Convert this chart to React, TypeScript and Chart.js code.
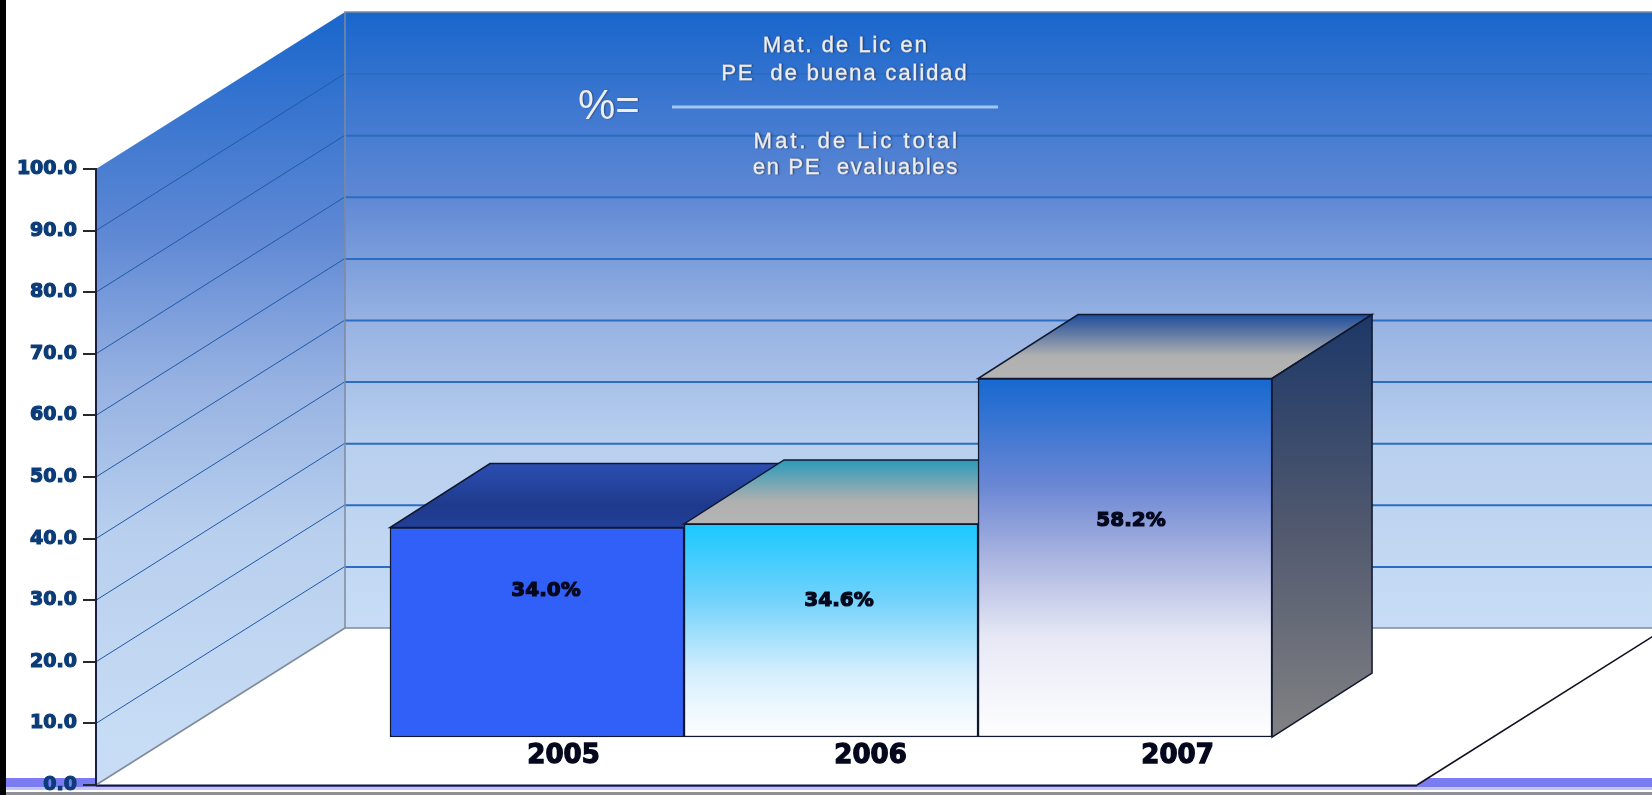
import React, { useEffect, useRef } from "react";
import { Chart, registerables } from "chart.js";

Chart.register(...registerables);

const YEARS = ["2005", "2006", "2007"];
const VALUES = [34.0, 34.6, 58.2];
const VALUE_LABELS = ["34.0%", "34.6%", "58.2%"];
const FORMULA_TOP = ["Mat. de Lic en", "PE  de buena calidad"];
const FORMULA_BOTTOM = ["Mat. de Lic total", "en PE  evaluables"];
const FORMULA_SIGN = "%=";

const DEPTH_DX = 249;
const DEPTH_DY = 157;
const BAR_DX = 100;
const BAR_DY = 64;
const LABEL_DROP = [63, 77, 142];
const LABEL_SHIFT = [9, 8, 6];

const FRONT_STOPS: [number, string][][] = [
  [[0, "#3060f8"], [1, "#3060f8"]],
  [[0, "#1ac8ff"], [0.35, "#70d2fb"], [0.7, "#d5eefd"], [1, "#ffffff"]],
  [[0, "#1668d0"], [0.3, "#6b87d4"], [0.5, "#aab4e0"], [0.72, "#e6e8f5"], [1, "#ffffff"]],
];
const TOP_STOPS: [number, string][][] = [
  [[0, "#2a4eb2"], [0.65, "#1f3a8c"], [1, "#22409a"]],
  [[0, "#2a9ab8"], [0.65, "#b0b0b0"], [1, "#b4b4b4"]],
  [[0, "#1d4c9a"], [0.65, "#b0b0b0"], [1, "#b4b4b4"]],
];

function linear(ctx: CanvasRenderingContext2D, y0: number, y1: number, stops: [number, string][]) {
  const g = ctx.createLinearGradient(0, y0, 0, y1);
  stops.forEach(([o, c]) => g.addColorStop(o, c));
  return g;
}

function poly(ctx: CanvasRenderingContext2D, pts: number[][]) {
  ctx.beginPath();
  pts.forEach(([x, y], i) => (i ? ctx.lineTo(x, y) : ctx.moveTo(x, y)));
  ctx.closePath();
}

const scene = {
  id: "scene",
  beforeDraw(chart: any) {
    const { ctx, chartArea: a, scales } = chart;
    const y = scales.y;
    const W = chart.width;
    const H = chart.height;
    const bottom = y.getPixelForValue(0);
    const top = y.getPixelForValue(100);
    const backB = bottom - DEPTH_DY;
    const backT = top - DEPTH_DY;
    const backL = a.left + DEPTH_DX;
    const backR = a.right + DEPTH_DX;
    ctx.save();

    // frame and band
    ctx.fillStyle = "#7b7bf2";
    ctx.fillRect(0, bottom - 7, W, 11);
    ctx.fillStyle = "#c4c4f2";
    ctx.fillRect(0, bottom + 2, W, 3);
    ctx.fillStyle = "#8f9096";
    ctx.fillRect(0, H - 3, W, 3);
    ctx.fillStyle = "#000000";
    ctx.fillRect(0, 0, 6, H);

    // floor
    poly(ctx, [[a.left, bottom], [a.right, bottom], [backR, backB], [backL, backB]]);
    ctx.fillStyle = "#ffffff";
    ctx.fill();
    ctx.beginPath();
    ctx.moveTo(a.right, bottom);
    ctx.lineTo(backR, backB);
    ctx.strokeStyle = "#101020";
    ctx.lineWidth = 1.5;
    ctx.stroke();
    ctx.beginPath();
    ctx.moveTo(a.left, bottom + 0.5);
    ctx.lineTo(a.right, bottom + 0.5);
    ctx.strokeStyle = "#14143c";
    ctx.lineWidth = 2;
    ctx.stroke();

    const wallStops: [number, string][] = [
      [0, "#1966cc"],
      [0.3, "#5f88d4"],
      [0.5, "#97b2e2"],
      [0.7, "#b8cfee"],
      [1, "#c8ddf5"],
    ];
    // back wall
    ctx.fillStyle = linear(ctx, backT, backB, wallStops);
    ctx.fillRect(backL, backT, backR - backL, backB - backT);
    // side wall
    poly(ctx, [[a.left, top], [backL, backT], [backL, backB], [a.left, bottom]]);
    ctx.fillStyle = linear(ctx, backT, bottom - 30, wallStops);
    ctx.fill();

    // grid on walls, taken from the value axis
    y.ticks.forEach((t: any) => {
      if (t.value === 0 || t.value === 100) return;
      const py = y.getPixelForValue(t.value);
      ctx.beginPath();
      ctx.moveTo(backL, py - DEPTH_DY + 0.5);
      ctx.lineTo(backR, py - DEPTH_DY + 0.5);
      ctx.strokeStyle = "#2b6dc2";
      ctx.lineWidth = 2;
      ctx.stroke();
      ctx.beginPath();
      ctx.moveTo(a.left, py);
      ctx.lineTo(backL, py - DEPTH_DY);
      ctx.strokeStyle = "#1f5aa8";
      ctx.lineWidth = 1;
      ctx.stroke();
    });

    // wall edges
    ctx.strokeStyle = "#7f8a9c";
    ctx.lineWidth = 1.5;
    ctx.beginPath();
    ctx.moveTo(backR, backT);
    ctx.lineTo(backL, backT);
    ctx.lineTo(backL, backB);
    ctx.lineTo(backR, backB);
    ctx.moveTo(backL, backB);
    ctx.lineTo(a.left, bottom);
    ctx.stroke();
    ctx.restore();
  },
  beforeDatasetsDraw(chart: any) {
    const { ctx } = chart;
    // depth of the bars
    const bars = chart.getDatasetMeta(0).data;
    ctx.save();
    ctx.strokeStyle = "#101830";
    ctx.lineWidth = 1.5;
    bars.forEach((b: any, i: number) => {
      const l = b.x - b.width / 2;
      const r = b.x + b.width / 2;
      poly(ctx, [[l, b.y], [r, b.y], [r + BAR_DX, b.y - BAR_DY], [l + BAR_DX, b.y - BAR_DY]]);
      ctx.fillStyle = linear(ctx, b.y - BAR_DY, b.y, TOP_STOPS[i]);
      ctx.fill();
      ctx.stroke();
      if (i === bars.length - 1) {
        poly(ctx, [[r, b.y], [r + BAR_DX, b.y - BAR_DY], [r + BAR_DX, b.base - BAR_DY], [r, b.base]]);
        ctx.fillStyle = linear(ctx, b.y - BAR_DY, b.base, [[0, "#1c3868"], [0.5, "#50586e"], [1, "#828284"]]);
        ctx.fill();
        ctx.stroke();
      }
    });
    ctx.restore();
  },
  afterDatasetsDraw(chart: any) {
    const { ctx } = chart;
    const bars = chart.getDatasetMeta(0).data;
    ctx.save();
    ctx.textAlign = "center";
    ctx.textBaseline = "middle";
    ctx.fillStyle = "#05081c";
    ctx.strokeStyle = "#05081c";
    ctx.lineWidth = 1.2;
    ctx.font = "bold 20px 'DejaVu Sans'";
    bars.forEach((b: any, i: number) => {
      ctx.strokeText(VALUE_LABELS[i], b.x + LABEL_SHIFT[i], b.y + LABEL_DROP[i]);
      ctx.fillText(VALUE_LABELS[i], b.x + LABEL_SHIFT[i], b.y + LABEL_DROP[i]);
    });

    // formula
    ctx.fillStyle = "#eceef2";
    ctx.strokeStyle = "rgba(236,238,242,0.85)";
    ctx.lineWidth = 0.8;
    ctx.shadowColor = "rgba(30,40,70,0.6)";
    ctx.shadowBlur = 1.5;
    ctx.shadowOffsetX = 1;
    ctx.font = "22px 'Liberation Sans'";
    const lines: [string, number, number, string][] = [
      [FORMULA_TOP[0], 846, 46, "2px"],
      [FORMULA_TOP[1], 845, 74, "1.9px"],
      [FORMULA_BOTTOM[0], 857, 142, "3px"],
      [FORMULA_BOTTOM[1], 856, 168, "1.7px"],
    ];
    lines.forEach(([t, x, y, s]) => {
      (ctx as any).letterSpacing = s;
      ctx.strokeText(t, x, y);
      ctx.fillText(t, x, y);
    });
    (ctx as any).letterSpacing = "0px";
    ctx.textAlign = "left";
    ctx.font = "42px 'Liberation Sans'";
    ctx.fillText(FORMULA_SIGN, 578, 107);
    ctx.shadowColor = "transparent";
    ctx.strokeStyle = "#a2c6f2";
    ctx.lineWidth = 3;
    ctx.beginPath();
    ctx.moveTo(672, 107);
    ctx.lineTo(998, 107);
    ctx.stroke();
    ctx.restore();
  },
};

export default function App() {
  const ref = useRef<HTMLCanvasElement>(null);
  useEffect(() => {
    const chart = new Chart(ref.current as HTMLCanvasElement, {
      type: "bar",
      data: {
        datasets: [
          {
            data: VALUES.map((v, i) => ({ x: i, y: v })),
            xAxisID: "xBars",
            yAxisID: "yBars",
            categoryPercentage: 1,
            barPercentage: 1,
            borderWidth: 1.5,
            borderSkipped: false,
            borderColor: "#101830",
            backgroundColor: (c: any) => {
              const s = c.chart.scales.yBars;
              if (!s || c.raw === undefined) return "#3060f8";
              const y0 = s.getPixelForValue(c.raw.y);
              const y1 = s.getPixelForValue(0);
              if (!isFinite(y0) || !isFinite(y1)) return "#3060f8";
              return linear(c.chart.ctx, y0, y1, FRONT_STOPS[c.dataIndex]);
            },
          },
        ],
      } as any,
      plugins: [scene],
      options: {
        responsive: false,
        animation: false,
        events: [],
        layout: { padding: { top: 169, right: 235, bottom: 10, left: 0 } },
        plugins: { legend: { display: false }, tooltip: { enabled: false }, title: { display: false } },
        scales: {
          y: {
            position: "left",
            min: 0,
            max: 100,
            ticks: {
              stepSize: 10,
              padding: 6,
              color: "#0c3c78",
              textStrokeColor: "#0c3c78",
              textStrokeWidth: 1.2,
              font: { family: "'DejaVu Sans'", weight: "bold", size: 19 },
              callback: (v: any) => Number(v).toFixed(1),
            },
            grid: { drawOnChartArea: false, tickLength: 13, color: "#26282e", lineWidth: 2 },
            border: { color: "#1a2040", width: 2 },
            afterFit: (s: any) => {
              s.width = 96;
              s.paddingTop = 0;
              s.paddingBottom = 0;
            },
          },
          yBars: {
            axis: "y",
            type: "linear",
            display: false,
            min: -7.79,
            max: 92.21,
          },
          xBars: {
            axis: "x",
            type: "linear",
            display: false,
            offset: false,
            min: -1.5,
            max: 2.993,
            afterBuildTicks: (s: any) => {
              s.ticks = YEARS.map((_, i) => ({ value: i }));
            },
          },
          x: {
            axis: "x",
            type: "linear",
            offset: false,
            position: { y: 7.8 },
            min: -1.523,
            max: 2.78,
            afterBuildTicks: (s: any) => {
              s.ticks = YEARS.map((_, i) => ({ value: i }));
            },
            afterFit: (s: any) => {
              s.height = 0;
              s.paddingLeft = 0;
              s.paddingRight = 0;
            },
            grid: { display: false, drawTicks: false, offset: false },
            border: { display: false },
            ticks: {
              autoSkip: false,
              maxRotation: 0,
              padding: 4,
              color: "#05081c",
              textStrokeColor: "#05081c",
              textStrokeWidth: 1.3,
              font: { family: "'DejaVu Sans'", weight: "bold", size: 26 },
              callback: (v: any) => YEARS[v],
            },
          },
        },
      } as any,
    });
    return () => chart.destroy();
  }, []);
  return (
    <div style={{ position: "absolute", left: 0, top: 0, width: 1652, height: 795, background: "#ffffff", overflow: "hidden" }}>
      <canvas ref={ref} width={1652} height={795} style={{ display: "block", filter: "blur(0.5px)" }} />
    </div>
  );
}
